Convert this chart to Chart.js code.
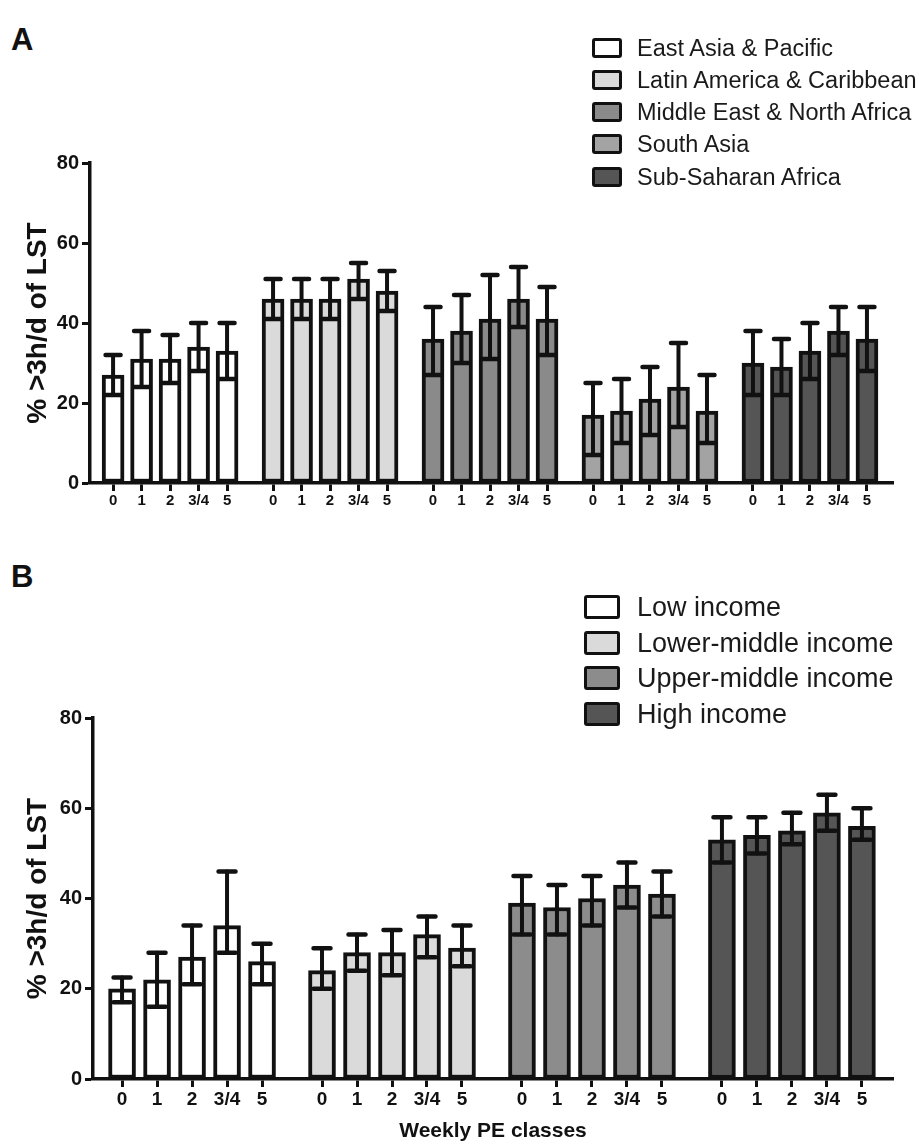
<!DOCTYPE html>
<html><head><meta charset="utf-8">
<script src="https://cdn.jsdelivr.net/npm/chart.js@4.4.1/dist/chart.umd.min.js"></script>
<style>
html,body{margin:0;padding:0;background:#fff;}
body{width:919px;height:1144px;position:relative;overflow:hidden;font-family:"Liberation Sans",Arial,sans-serif;}
#wa{position:absolute;left:0;top:0;width:919px;height:520px;}
#wb{position:absolute;left:0;top:530px;width:919px;height:614px;}
.panel{position:absolute;font-weight:bold;font-size:31px;color:#111;line-height:1;}
.legend{position:absolute;color:#1a1a1a;}
.legend .row{position:absolute;left:0;white-space:nowrap;display:flex;align-items:center;}
.legend .sw{box-sizing:border-box;border:3.5px solid #111;border-radius:3px;flex:none;}
</style></head>
<body>
<div class="panel" style="left:11px;top:24px;">A</div>
<div class="panel" style="left:11px;top:561px;">B</div>
<div id="wa"><canvas id="ca" width="919" height="520"></canvas></div>
<div id="wb"><canvas id="cb" width="919" height="614"></canvas></div>
<div class="legend" id="la"></div>
<div class="legend" id="lb"></div>
<script>
// ---------- data ----------
const peClasses = ['0', '1', '2', '3/4', '5'];

// Panel A: world regions
const regionNames = ['East Asia & Pacific', 'Latin America & Caribbean', 'Middle East & North Africa', 'South Asia', 'Sub-Saharan Africa'];
const eastAsia      = [27, 31, 31, 34, 33];
const eastAsiaHi    = [32, 38, 37, 40, 40];
const eastAsiaLo    = [22, 24, 25, 28, 26];
const latinAmerica  = [46, 46, 46, 51, 48];
const latinAmericaHi= [51, 51, 51, 55, 53];
const latinAmericaLo= [41, 41, 41, 46, 43];
const middleEast    = [36, 38, 41, 46, 41];
const middleEastHi  = [44, 47, 52, 54, 49];
const middleEastLo  = [27, 30, 31, 39, 32];
const southAsia     = [17, 18, 21, 24, 18];
const southAsiaHi   = [25, 26, 29, 35, 27];
const southAsiaLo   = [7, 10, 12, 14, 10];
const subSaharan    = [30, 29, 33, 38, 36];
const subSaharanHi  = [38, 36, 40, 44, 44];
const subSaharanLo  = [22, 22, 26, 32, 28];

// Panel B: income groups
const incomeNames = ['Low income', 'Lower-middle income', 'Upper-middle income', 'High income'];
const lowIncome      = [20, 22, 27, 34, 26];
const lowIncomeHi    = [22.5, 28, 34, 46, 30];
const lowIncomeLo    = [17, 16, 21, 28, 21];
const lowerMiddle    = [24, 28, 28, 32, 29];
const lowerMiddleHi  = [29, 32, 33, 36, 34];
const lowerMiddleLo  = [20, 24, 23, 27, 25];
const upperMiddle    = [39, 38, 40, 43, 41];
const upperMiddleHi  = [45, 43, 45, 48, 46];
const upperMiddleLo  = [32, 32, 34, 38, 36];
const highIncome     = [53, 54, 55, 59, 56];
const highIncomeHi   = [58, 58, 59, 63, 60];
const highIncomeLo   = [48, 50, 52, 55, 53];

const yTicks = [0, 20, 40, 60, 80];

// ---------- styling ----------
const INK = '#111';
const regionColors = ['#ffffff', '#dadada', '#8a8a8a', '#a3a3a3', '#555555'];
const incomeColors = ['#ffffff', '#dadada', '#8c8c8c', '#555555'];

const errorBars = {
  id: 'errorBars',
  afterDatasetsDraw(chart, args, opts) {
    const ctx = chart.ctx, ys = chart.scales.y;
    ctx.save();
    ctx.strokeStyle = INK;
    ctx.lineCap = 'round';
    chart.data.datasets.forEach((ds, di) => {
      const meta = chart.getDatasetMeta(di);
      meta.data.forEach((el, i) => {
        const x = el.x;
        const yh = ys.getPixelForValue(ds.hi[i]);
        const yl = ys.getPixelForValue(ds.lo[i]);
        ctx.lineWidth = opts.stem;
        ctx.beginPath(); ctx.moveTo(x, yh); ctx.lineTo(x, yl); ctx.stroke();
        ctx.lineWidth = opts.capW;
        const c = opts.cap / 2;
        ctx.beginPath();
        ctx.moveTo(x - c, yh); ctx.lineTo(x + c, yh);
        ctx.moveTo(x - c, yl); ctx.lineTo(x + c, yl);
        ctx.stroke();
      });
    });
    ctx.restore();
  }
};

function makeChart(id, cfg) {
  const groupStep = cfg.groupStep;
  const positions = [];
  const labels = [];
  cfg.series.forEach((s, g) => peClasses.forEach((c, i) => { positions.push(g * groupStep + i); labels.push(c); }));
  const datasets = cfg.series.map((s, g) => ({
    label: cfg.names[g],
    data: s.v.map((v, i) => ({ x: g * groupStep + i, y: v })),
    hi: s.hi, lo: s.lo,
    backgroundColor: cfg.colors[g],
    borderColor: INK,
    borderWidth: 4,
    borderSkipped: false,
    barThickness: cfg.barW,
    grouped: false
  }));
  return new Chart(document.getElementById(id), {
    type: 'bar',
    data: { datasets },
    plugins: [errorBars],
    options: {
      responsive: false,
      animation: false,
      events: [],
      layout: { padding: cfg.padding },
      plugins: {
        legend: { display: false },
        tooltip: { enabled: false },
        errorBars: { stem: 4, cap: cfg.cap, capW: 4.5 }
      },
      scales: {
        x: {
          type: 'linear',
          offset: false,
          min: cfg.xmin, max: cfg.xmax,
          afterBuildTicks: s => { s.ticks = positions.map(v => ({ value: v })); },
          afterFit: s => { s.height = cfg.xh; },
          ticks: {
            autoSkip: false, maxRotation: 0, minRotation: 0,
            callback: (v, i) => labels[i],
            color: INK, padding: 1,
            font: cfg.xfont
          },
          grid: { offset: false, drawOnChartArea: false, drawTicks: true, tickLength: 8, tickWidth: 3, tickColor: INK },
          border: { display: true, color: INK, width: 3.5 },
          title: cfg.xtitle
        },
        y: {
          min: 0, max: 80,
          afterBuildTicks: s => { s.ticks = yTicks.map(v => ({ value: v })); },
          afterFit: s => { s.width = cfg.yw; },
          ticks: { color: INK, padding: 3, font: { family: 'Liberation Sans, Arial, sans-serif', weight: 'bold', size: 20 } },
          grid: { drawOnChartArea: false, drawTicks: true, tickLength: 8, tickWidth: 3, tickColor: INK },
          border: { display: true, color: INK, width: 3.5 },
          title: { display: true, text: '% >3h/d of LST', color: INK, padding: { top: 21, bottom: 0 },
                   font: { family: 'Liberation Sans, Arial, sans-serif', weight: 'bold', size: 28 } }
        }
      }
    }
  });
}

makeChart('ca', {
  names: regionNames, colors: regionColors, groupStep: 5.614, barW: 22, cap: 15,
  series: [
    { v: eastAsia, hi: eastAsiaHi, lo: eastAsiaLo },
    { v: latinAmerica, hi: latinAmericaHi, lo: latinAmericaLo },
    { v: middleEast, hi: middleEastHi, lo: middleEastLo },
    { v: southAsia, hi: southAsiaHi, lo: southAsiaLo },
    { v: subSaharan, hi: subSaharanHi, lo: subSaharanLo }
  ],
  xmin: -0.81, xmax: 27.37, xh: 37, yw: 90,
  padding: { left: 0, top: 163, right: 26, bottom: 0 },
  xfont: { family: '"Liberation Sans Narrow", "Liberation Sans", Arial, sans-serif', weight: 'bold', size: 15 },
  xtitle: { display: false }
});

makeChart('cb', {
  names: incomeNames, colors: incomeColors, groupStep: 5.714, barW: 27, cap: 17,
  series: [
    { v: lowIncome, hi: lowIncomeHi, lo: lowIncomeLo },
    { v: lowerMiddle, hi: lowerMiddleHi, lo: lowerMiddleLo },
    { v: upperMiddle, hi: upperMiddleHi, lo: upperMiddleLo },
    { v: highIncome, hi: highIncomeHi, lo: highIncomeLo }
  ],
  xmin: -0.83, xmax: 22.03, xh: 65, yw: 93,
  padding: { left: 0, top: 188, right: 26, bottom: 0 },
  xfont: { family: '"Liberation Sans Narrow", "Liberation Sans", Arial, sans-serif', weight: 'bold', size: 19 },
  xtitle: { display: true, text: 'Weekly PE classes', color: INK, padding: { top: 4, bottom: 0 },
            font: { family: '"Liberation Sans Narrow", "Liberation Sans", Arial, sans-serif', weight: 'bold', size: 21 } }
});

// ---------- legends ----------
function buildLegend(id, names, colors, left, centers, box, fontSize, gap) {
  const el = document.getElementById(id);
  el.style.left = left + 'px'; el.style.top = '0px';
  names.forEach((n, i) => {
    const row = document.createElement('div');
    row.className = 'row';
    row.style.top = (centers[i] - 18) + 'px';
    row.style.height = '36px';
    row.style.fontSize = fontSize + 'px';
    const sw = document.createElement('span');
    sw.className = 'sw';
    sw.style.width = box[0] + 'px'; sw.style.height = box[1] + 'px';
    sw.style.background = colors[i];
    const tx = document.createElement('span');
    tx.textContent = n;
    tx.style.marginLeft = gap + 'px';
    row.appendChild(sw); row.appendChild(tx);
    el.appendChild(row);
  });
}
buildLegend('la', regionNames, regionColors, 592, [48, 80, 112, 144, 177], [30, 20], 23.5, 15);
buildLegend('lb', incomeNames, incomeColors, 584, [607, 643, 678, 714], [36, 24], 27, 17);
</script>
</body></html>
